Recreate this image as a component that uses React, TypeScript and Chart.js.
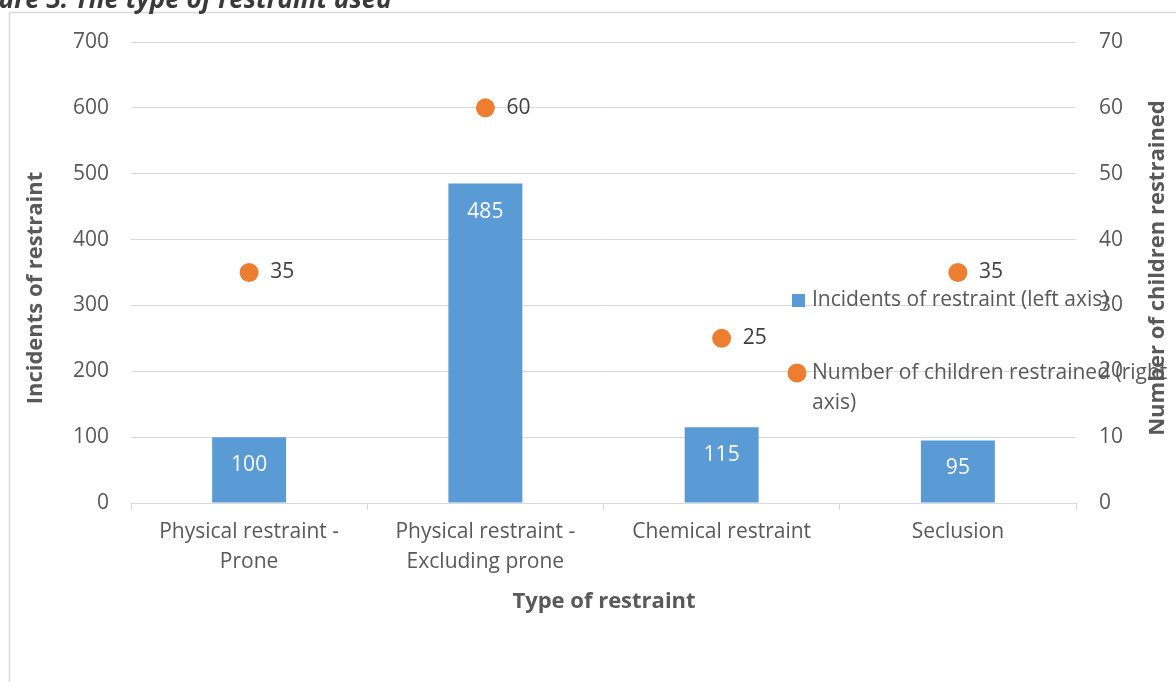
import React, { useEffect, useRef } from "react";
import { Chart, registerables } from "chart.js";

Chart.register(...registerables);

const categories: (string | string[])[] = [
  ["Physical restraint -", "Prone"],
  ["Physical restraint -", "Excluding prone"],
  "Chemical restraint",
  "Seclusion",
];
const incidents = [100, 485, 115, 95];
const children = [35, 60, 25, 35];
const leftAxis = { min: 0, max: 700, step: 100 };
const rightAxis = { min: 0, max: 70, step: 10 };
const seriesNames = ["Incidents of restraint (left axis)", "Number of children restrained (right axis)"];
const figureTitle = "Figure 3: The type of restraint used";
const xTitle = "Type of restraint";
const yTitle = "Incidents of restraint";
const y1Title = "Number of children restrained";

const FONT = '"Open Sans", "DejaVu Sans", sans-serif';
const BLUE = "#5B9BD5";
const ORANGE = "#ED7D31";
const TICK = "#595959";
const GRID = "#D9D9D9";

const overlay = {
  id: "overlay",
  afterDatasetsDraw(chart: any) {
    const ctx = chart.ctx as CanvasRenderingContext2D;
    ctx.save();
    ctx.font = `21px ${FONT}`;
    ctx.textBaseline = "middle";
    // bar labels
    ctx.fillStyle = "#FFFFFF";
    ctx.textAlign = "center";
    chart.getDatasetMeta(0).data.forEach((el: any, i: number) => {
      ctx.fillText(String(chart.data.datasets[0].data[i]), el.x, el.y + 28);
    });
    // point labels
    ctx.fillStyle = "#404040";
    ctx.textAlign = "left";
    chart.getDatasetMeta(1).data.forEach((el: any, i: number) => {
      ctx.fillText(String(chart.data.datasets[1].data[i]), el.x + 21, el.y);
    });
    // legend (inside plot, overlapping as in the original)
    const l0 = chart.data.datasets[0].label as string;
    const l1 = chart.data.datasets[1].label as string;
    ctx.fillStyle = BLUE;
    ctx.fillRect(792, 294, 13, 13);
    ctx.fillStyle = TICK;
    ctx.fillText(l0, 812, 300);
    ctx.fillStyle = ORANGE;
    ctx.beginPath();
    ctx.arc(797, 373, 9.5, 0, Math.PI * 2);
    ctx.fill();
    ctx.fillStyle = TICK;
    const words = l1.split(" ");
    const line1 = words.slice(0, -1).join(" ");
    const line2 = words[words.length - 1];
    ctx.fillText(line1, 812, 373);
    ctx.fillText(line2, 812, 403);
    ctx.restore();
  },
  afterDraw(chart: any) {
    const ctx = chart.ctx as CanvasRenderingContext2D;
    ctx.save();
    // frame
    ctx.strokeStyle = GRID;
    ctx.lineWidth = 1.5;
    ctx.strokeRect(9.5, 12.5, 1300, 800);
    // figure title (cut off at top-left)
    ctx.fillStyle = "#3A3A3A";
    ctx.font = `italic bold 26px ${FONT}`;
    ctx.textAlign = "left";
    ctx.textBaseline = "alphabetic";
    ctx.fillText(figureTitle, -37, 8);
    // axis titles
    ctx.fillStyle = TICK;
    ctx.font = `bold 22px ${FONT}`;
    ctx.textAlign = "center";
    ctx.textBaseline = "middle";
    ctx.fillText(xTitle, 604, 602);
    ctx.save();
    ctx.translate(36, 288);
    ctx.rotate(-Math.PI / 2);
    ctx.fillText(yTitle, 0, 0);
    ctx.restore();
    ctx.save();
    ctx.translate(1158, 268);
    ctx.rotate(-Math.PI / 2);
    ctx.fillText(y1Title, 0, 0);
    ctx.restore();
    ctx.restore();
  },
};

export default function App() {
  const ref = useRef<HTMLCanvasElement>(null);
  useEffect(() => {
    if (!ref.current) return;
    const chart = new Chart(ref.current, {
      type: "bar",
      data: {
        labels: categories,
        datasets: [
          {
            type: "bar",
            label: seriesNames[0],
            data: incidents,
            backgroundColor: BLUE,
            yAxisID: "y",
            categoryPercentage: 1,
            barPercentage: 0.313,
            order: 2,
          },
          {
            type: "line",
            label: seriesNames[1],
            data: children,
            yAxisID: "y1",
            showLine: false,
            pointRadius: 9.5,
            pointBackgroundColor: ORANGE,
            pointBorderWidth: 0,
            borderColor: ORANGE,
            backgroundColor: ORANGE,
            order: 1,
          } as any,
        ],
      },
      options: {
        animation: false,
        responsive: false,
        maintainAspectRatio: false,
        layout: { padding: { top: 42, left: 0, right: 0, bottom: 0 } },
        plugins: { legend: { display: false }, tooltip: { enabled: false } },
        scales: {
          x: {
            offset: true,
            grid: { offset: true, drawOnChartArea: false, drawTicks: true, tickLength: 7, color: GRID, lineWidth: 1 },
            border: { display: true, color: GRID, width: 1 },
            ticks: { color: TICK, font: { family: FONT, size: 21, lineHeight: 1.43 }, padding: 7, maxRotation: 0, autoSkip: false },
            afterFit: (s: any) => { s.height = 179; },
          },
          y: {
            position: "left",
            min: leftAxis.min,
            max: leftAxis.max,
            ticks: { stepSize: leftAxis.step, color: TICK, font: { family: FONT, size: 21 }, padding: 22 },
            grid: { color: GRID, lineWidth: 1, drawTicks: false },
            border: { display: false },
            afterFit: (s: any) => { s.width = 131; },
          },
          y1: {
            position: "right",
            min: rightAxis.min,
            max: rightAxis.max,
            ticks: { stepSize: rightAxis.step, color: TICK, font: { family: FONT, size: 21 }, padding: 23 },
            grid: { drawOnChartArea: false, drawTicks: false },
            border: { display: false },
            afterFit: (s: any) => { s.width = 100; },
          },
        },
      },
      plugins: [overlay],
    });
    return () => chart.destroy();
  }, []);
  return (
    <div style={{ position: "fixed", left: 0, top: 0, width: 1176, height: 682, background: "#fff" }}>
      <canvas ref={ref} width={1176} height={682} style={{ width: 1176, height: 682, display: "block" }} />
    </div>
  );
}
